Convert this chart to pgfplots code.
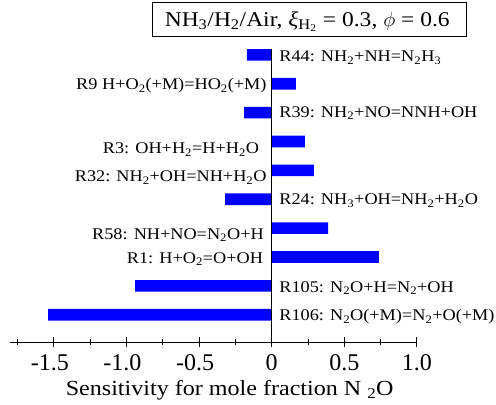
\documentclass[border=0pt]{standalone}
\usepackage{pgfplots}
\pgfplotsset{compat=1.18}
\usepackage{fontspec}
\setmainfont{Liberation Serif}[FakeStretch=1.12]
\newfontfamily\tickfont{Liberation Serif}
\newcommand{\s}[1]{\textsubscript{#1}}
\newcommand{\lab}{\fontsize{16.3}{18}\selectfont}
\begin{document}
\begin{tikzpicture}
\begin{axis}[
 scale only axis, width=406.7pt, height=331pt,
 xmin=-1.8, xmax=1.0, ymin=-0.959, ymax=10.5,
 axis x line*=bottom, axis y line=none,
 x axis line style={line width=0.8pt},
 xtick={-1.5,-1,-0.5,0,0.5,1},
 xticklabels={\llap{-}1.5,\llap{-}1.0,\llap{-}0.5,0,0.5,1.0},
 minor xtick={-1.75,-1.25,-0.75,-0.25,0.25,0.75},
 tick align=center,
 major tick length=10pt, minor tick length=6pt,
 tick style={black, line width=0.8pt},
 xticklabel style={font=\tickfont\fontsize{24}{26}\selectfont, inner sep=0pt, anchor=north, yshift=-7pt},
 ytick=\empty,
 clip=false,
]
\addplot[xbar, bar width=11.7pt, fill=blue, draw=none] coordinates {
 (-1.539,0) (-0.941,1) (0.739,2) (0.388,3) (-0.320,4) (0.291,5) (0.229,6) (-0.189,7) (0.167,8) (-0.170,9)};
\addplot[black, line width=0.8pt] coordinates {(0,-0.959) (0,9.2)};
% labels
\node[anchor=base west, inner sep=0pt, font=\lab] at (axis cs:0.052,8.768) {R44: NH\s{2}+NH=N\s{2}H\s{3}};
\node[anchor=base east, inner sep=0pt, font=\lab] at (axis cs:-0.034,7.788) {R9 H+O\s{2}(+M)=HO\s{2}(+M)};
\node[anchor=base west, inner sep=0pt, font=\lab] at (axis cs:0.052,6.843) {R39: NH\s{2}+NO=NNH+OH};
\node[anchor=base east, inner sep=0pt, font=\lab] at (axis cs:-0.085,5.573) {R3: OH+H\s{2}=H+H\s{2}O};
\node[anchor=base east, inner sep=0pt, font=\lab] at (axis cs:-0.034,4.614) {R32: NH\s{2}+OH=NH+H\s{2}O};
\node[anchor=base west, inner sep=0pt, font=\lab] at (axis cs:0.052,3.808) {R24: NH\s{3}+OH=NH\s{2}+H\s{2}O};
\node[anchor=base east, inner sep=0pt, font=\lab] at (axis cs:-0.053,2.620) {R58: NH+NO=N\s{2}O+H};
\node[anchor=base east, inner sep=0pt, font=\lab] at (axis cs:-0.058,1.790) {R1: H+O\s{2}=O+OH};
\node[anchor=base west, inner sep=0pt, font=\lab] at (axis cs:0.052,0.786) {R105: N\s{2}O+H=N\s{2}+OH};
\node[anchor=base west, inner sep=0pt, font=\lab] at (axis cs:0.052,-0.208) {R106: N\s{2}O(+M)=N\s{2}+O(+M)};
% x label
\node[anchor=base, inner sep=0pt, font=\fontsize{21.5}{23}\selectfont] at (axis cs:-0.289,-2.804) {Sensitivity for mole fraction N \s{2}O};
% title
\draw[line width=0.8pt] (axis cs:-0.824,9.633) rectangle (axis cs:1.338,10.81);
\node[anchor=base, inner sep=0pt, font=\fontsize{21}{23}\selectfont] at (axis cs:0.245,9.979) {NH\s{3}/H\s{2}/Air, \textit{ξ}\s{H\s{2}} = 0.3, $\phi$ = 0.6};
% bounding box
\path (axis cs:-1.871,-3.115) rectangle (axis cs:1.545,10.90);
\end{axis}
\end{tikzpicture}
\end{document}
